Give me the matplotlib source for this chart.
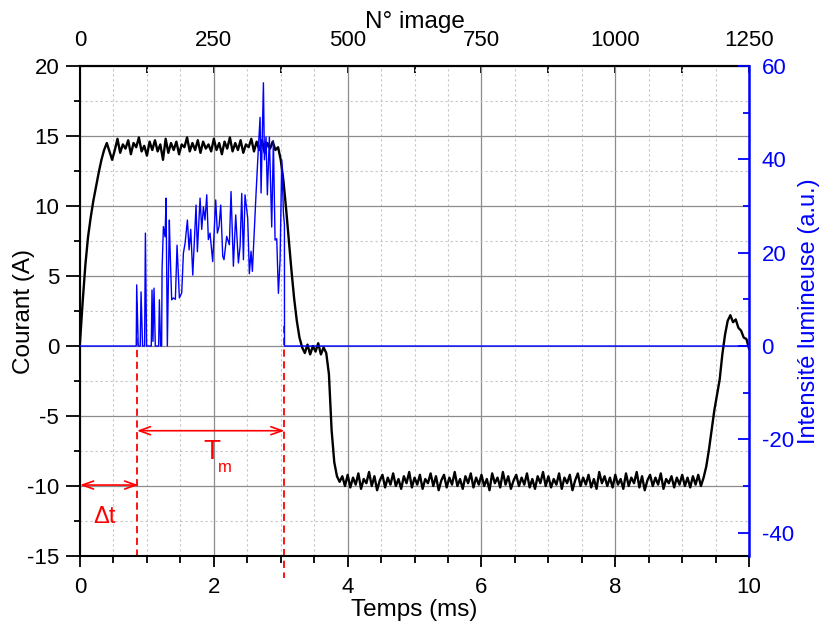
import numpy as np
import matplotlib
matplotlib.use("Agg")
import matplotlib.pyplot as plt
from matplotlib.ticker import MultipleLocator
from matplotlib.patches import ArrowStyle

plt.rcParams['font.family'] = ['Liberation Sans', 'DejaVu Sans']

# Current (A), one sample every 0.04 ms, one line per ms
courant = [
    0.3, 3.2, 5.8, 7.8, 9.2, 10.4, 11.4, 12.4, 13.3, 14.0, 14.5, 13.9, 13.3, 14.0, 14.8, 13.8, 14.4, 14.1, 14.7, 13.7, 14.5, 14.2, 14.9, 13.9, 14.3,
    13.6, 14.6, 14.0, 14.7, 13.9, 14.4, 13.3, 14.8, 13.8, 14.5, 14.0, 14.6, 13.7, 14.4, 14.2, 14.9, 13.9, 14.5, 14.0, 14.7, 13.8, 14.6, 14.1, 14.4, 13.9,
    14.8, 14.0, 14.5, 13.7, 14.6, 14.1, 14.9, 13.9, 14.5, 14.0, 14.7, 13.8, 14.4, 14.2, 14.8, 13.9, 14.6, 14.0, 14.7, 13.8, 14.5, 14.1, 14.6, 14.0, 14.2,
    13.3, 11.8, 9.8, 7.6, 5.4, 3.4, 1.8, 0.6, -0.1, -0.5, 0.1, -0.6, 0.0, -0.4, 0.2, -0.6, -0.1, -0.5, -2.0, -6.0, -8.3, -9.3, -9.7, -9.3, -10.0,
    -9.2, -10.1, -9.4, -9.9, -9.1, -10.2, -9.5, -9.8, -9.0, -10.0, -9.3, -10.3, -9.6, -9.2, -10.1, -9.4, -9.9, -9.1, -10.0, -9.5, -10.2, -9.3, -9.8, -9.0, -10.1,
    -9.4, -9.9, -9.2, -10.2, -9.5, -9.8, -9.1, -10.0, -9.3, -10.3, -9.6, -9.2, -10.1, -9.4, -9.9, -9.0, -10.0, -9.5, -10.2, -9.3, -9.8, -9.1, -10.1, -9.4, -9.9,
    -9.2, -10.0, -9.5, -10.3, -9.1, -9.8, -9.4, -10.1, -9.0, -9.9, -9.3, -10.2, -9.6, -9.2, -10.0, -9.4, -9.9, -9.1, -10.1, -9.5, -10.2, -9.3, -9.8, -9.0, -10.0,
    -9.3, -10.1, -9.5, -9.9, -9.1, -10.2, -9.4, -9.8, -9.2, -10.3, -9.6, -9.1, -10.0, -9.4, -9.9, -9.2, -10.1, -9.5, -10.2, -9.0, -9.8, -9.3, -10.0, -9.4, -10.1,
    -9.2, -9.9, -9.5, -10.2, -9.1, -10.0, -9.4, -9.8, -9.0, -10.1, -9.3, -10.3, -9.6, -9.2, -10.0, -9.4, -9.9, -9.1, -10.2, -9.5, -9.8, -9.3, -10.1, -9.4, -9.9,
    -9.2, -10.0, -9.4, -10.1, -9.3, -9.9, -9.2, -10.0, -9.4, -8.6, -7.4, -6.0, -4.6, -3.5, -2.4, -0.6, 0.8, 1.8, 2.2, 1.7, 1.9, 1.3, 1.1, 0.6, 0.5,
    -0.2,
]
temps = np.linspace(0, 10, len(courant))

# Light intensity (a.u.)
lum_t = [0, 0.84, 0.847, 0.87, 0.90, 0.912, 0.935, 0.965, 0.977, 0.995,
         1.065, 1.076, 1.09, 1.106, 1.125, 1.175, 1.186, 1.205, 1.22, 1.226,
         1.246, 1.271, 1.286, 1.305, 1.335, 1.345, 1.37, 1.395, 1.425, 1.45,
         1.485, 1.52, 1.545, 1.57, 1.605, 1.63, 1.655, 1.685, 1.734, 1.754,
         1.794, 1.819, 1.844, 1.868, 1.894, 1.918, 1.943, 1.983, 2.028, 2.053,
         2.078, 2.103, 2.133, 2.152, 2.192, 2.232, 2.257, 2.292, 2.327, 2.367,
         2.392, 2.417, 2.442, 2.466, 2.506, 2.531, 2.556, 2.576, 2.631, 2.666,
         2.691, 2.706, 2.741, 2.756, 2.780, 2.800, 2.830, 2.865, 2.890, 2.915,
         2.940, 2.965, 2.990, 3.015, 3.040, 3.055, 3.056, 10]
lum = [0, 0, 13.1, 0, 0, 11.6, 0, 0, 24.2, 0,
       0, 12.0, 1.0, 12.4, 0, 0, 9.9, 0, 0, 16.3,
       25.6, 23.4, 31.7, 0, 27.0, 21.0, 9.9, 10.3, 10.0, 21.6,
       10.3, 11.4, 19.9, 22.0, 27.0, 20.6, 25.0, 15.2, 30.2, 20.2,
       31.7, 25.0, 29.8, 27.0, 32.4, 22.8, 24.2, 18.1, 31.3, 24.2,
       25.6, 30.2, 19.2, 18.5, 23.5, 21.7, 33.1, 17.1, 28.1, 17.8,
       21.3, 32.7, 18.5, 32.4, 27.4, 15.5, 20.3, 16.0, 32.7, 42.6,
       49.0, 32.8, 56.4, 39.9, 44.8, 32.4, 44.8, 25.5, 44.0, 22.7,
       23.0, 11.3, 18.4, 39.9, 28.5, 26.0, 0, 0]

t_debut = 0.85
t_fin = 3.055
img_per_ms = 125

fig = plt.figure(figsize=(8.25, 6.27), dpi=100)
ax = fig.add_axes([0.097, 0.1132, 0.811, 0.7815])
ax2 = ax.twinx()

ax.set_xlim(0, 10)
ax.set_ylim(-15, 20)
ax2.set_ylim(-45, 60)

ax.xaxis.set_major_locator(MultipleLocator(2))
ax.xaxis.set_minor_locator(MultipleLocator(0.5))
ax.yaxis.set_major_locator(MultipleLocator(5))
ax.yaxis.set_minor_locator(MultipleLocator(2.5))
ax2.yaxis.set_major_locator(MultipleLocator(20))
ax2.yaxis.set_minor_locator(MultipleLocator(10))

ax.grid(which='major', color='#8c8c8c', lw=0.9, ls='-')
ax.grid(which='minor', color='#c4c4c4', lw=0.8, ls=(0, (2, 2.5)))
ax.set_axisbelow(True)

ax.plot(temps, courant, color='black', lw=1.7)
ax2.plot(lum_t, lum, color='blue', lw=1.0)

# annotations
ax.plot([t_debut, t_debut], [3.1, -15], color='red', lw=1.3, dashes=(4, 2.5))
ax.plot([t_fin, t_fin], [1.4, -16.6], color='red', lw=1.3, dashes=(4, 2.5), clip_on=False)
fleche = ArrowStyle('<->', head_length=0.5, head_width=0.18)
ax.annotate('', xy=(t_debut, -6.05), xytext=(t_fin, -6.05),
            arrowprops=dict(arrowstyle=fleche, color='red', lw=1.2, shrinkA=0, shrinkB=0, mutation_scale=16))
ax.annotate('', xy=(0, -9.93), xytext=(0.87, -9.93),
            arrowprops=dict(arrowstyle=fleche, color='red', lw=1.2, shrinkA=0, shrinkB=0, mutation_scale=16))
ax.text(1.97, -7.6, 'T', color='red', fontsize=20, ha='center', va='center')
ax.text(2.17, -8.7, 'm', color='red', fontsize=12, ha='center', va='center')
ax.text(0.37, -12.2, '\u0394t', color='red', fontsize=17, ha='center', va='center')

# axes style
for s in ['left', 'bottom', 'top']:
    ax.spines[s].set_linewidth(1.5)
ax.spines['right'].set_visible(False)
for s in ['left', 'bottom', 'top']:
    ax2.spines[s].set_visible(False)
ax2.spines['right'].set_color('blue')
ax2.spines['right'].set_linewidth(1.8)

ax.tick_params(axis='x', which='both', direction='out', top=False, labelsize=16, width=1.3, pad=7)
ax.tick_params(axis='x', which='major', length=8)
ax.tick_params(axis='x', which='minor', length=5)
ax.tick_params(axis='y', which='both', direction='out', right=False, labelsize=16, width=1.3, pad=5)
ax.tick_params(axis='y', which='major', length=10)
ax.tick_params(axis='y', which='minor', length=4)
ax2.tick_params(axis='y', which='both', direction='in', colors='blue', labelsize=16, width=1.3, pad=9)
ax2.tick_params(axis='y', which='major', length=8)
ax2.tick_params(axis='y', which='minor', length=4)

ax.set_yticks([-15, -10, -5, 0, 5, 10, 15, 20])
ax.set_yticklabels(['-15', '-10', '-5', '0', '5', '10', '15', '20'])
ax2.set_yticks([-40, -20, 0, 20, 40, 60])
ax2.set_yticklabels(['-40', '-20', '0', '20', '40', '60'])

ax.set_xlabel('Temps (ms)', fontsize=17.5, labelpad=1)
ax.set_ylabel('Courant (A)', fontsize=17.5)
ax.yaxis.set_label_coords(-0.067, 0.5)
ax2.set_ylabel('Intensité lumineuse (a.u.)', fontsize=17, color='blue', labelpad=3)

# image number on top
secax = ax.secondary_xaxis('top', functions=(lambda t: t * img_per_ms, lambda n: n / img_per_ms))
secax.set_xticks([0, 250, 500, 750, 1000, 1250])
secax.xaxis.set_minor_locator(MultipleLocator(125))
secax.tick_params(which='both', direction='in', length=5, width=1.3, labelsize=16, pad=11)
secax.spines['top'].set_linewidth(1.5)
secax.set_xlabel('N° image', fontsize=17.5, labelpad=1)

fig.savefig('out.png', dpi=100)
